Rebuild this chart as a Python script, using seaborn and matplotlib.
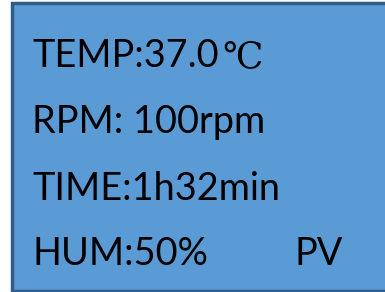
import matplotlib
matplotlib.use("Agg")
import matplotlib.pyplot as plt
import matplotlib.patches as mpatches
import seaborn as sns

# Display readings
labels = ["TEMP:37.0", "RPM: 100rpm", "TIME:1h32min", "HUM:50%"]
units = ["℃", "", "", ""]
mode = "PV"

sns.set_theme(style="white")
plt.rcParams['font.family'] = ['Lato', 'DejaVu Sans']

fig = plt.figure(figsize=(3.85, 2.92), dpi=100)
ax = fig.add_axes([0, 0, 1, 1])
ax.set_xlim(0, 385)
ax.set_ylim(292, 0)
ax.axis("off")

# panel
ax.add_patch(mpatches.Rectangle((11.5, 2.5), 400, 288, facecolor="#5b9bd5",
                                edgecolor="#2f5c8a", linewidth=2.5))

baselines = [67, 133, 200, 265]
for lab, unit, yb in zip(labels, units, baselines):
    t = ax.text(32, yb, lab, fontsize=27.3, color="black", va="baseline", ha="left")
    if unit:
        fig.canvas.draw()
        bb = t.get_window_extent().transformed(ax.transData.inverted())
        ax.text(bb.x1 + 4, yb, unit, fontsize=26, color="black", va="baseline",
                ha="left", family=["DejaVu Serif", "DejaVu Sans"])

ax.text(295, baselines[-1], mode, fontsize=27.3, color="black", va="baseline", ha="left")

fig.savefig("out.png", dpi=100)
